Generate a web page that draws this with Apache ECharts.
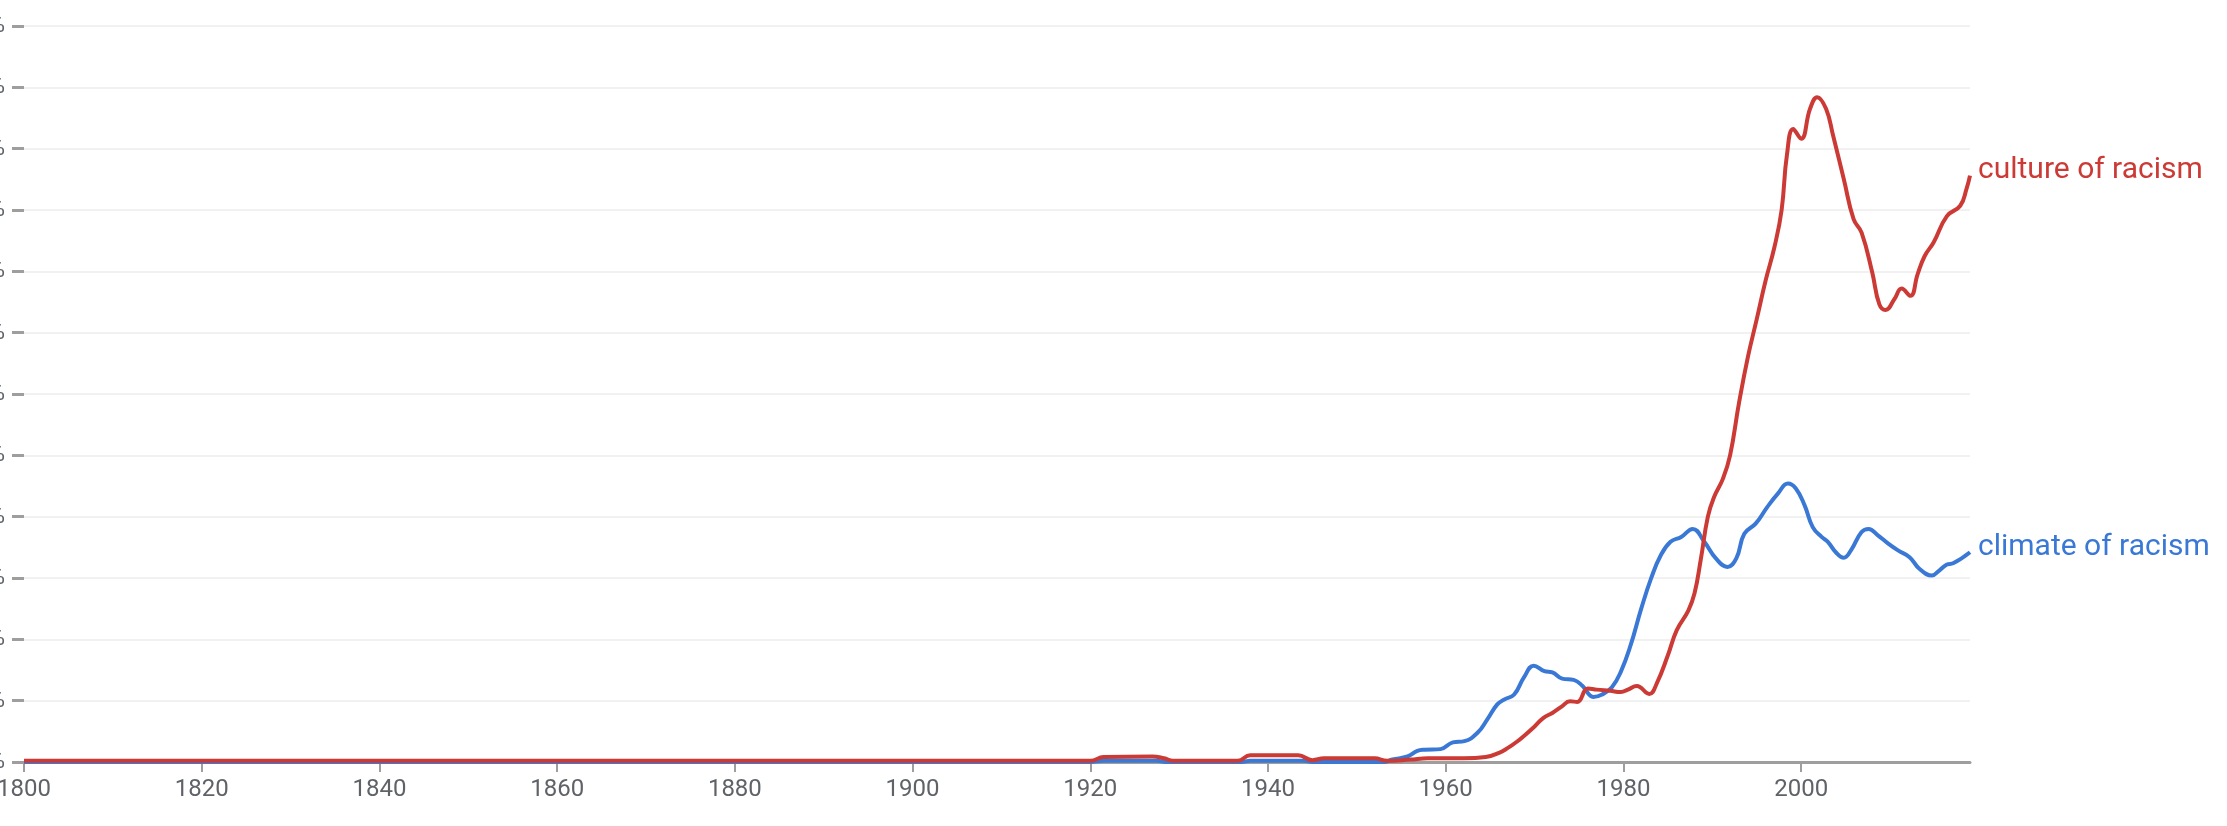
<!DOCTYPE html>
<html>
<head>
<meta charset="utf-8">
<script src="https://cdn.jsdelivr.net/npm/echarts@6/dist/echarts.min.js"></script>
<style>
  html, body { margin: 0; padding: 0; background: #ffffff; }
  #chart { width: 2227px; height: 826px; }
</style>
</head>
<body>
<div id="chart"></div>
<script>
// ---- data (y unit = one gridline step) ----
const seriesNames = ['climate of racism', 'culture of racism'];

const climateYears = [1800, 1920, 1921.5, 1927.5, 1928.5, 1937, 1938, 1944, 1945, 1953, 1954, 1955.7, 1956.8, 1957.6, 1959.4, 1960.8, 1962.1, 1963.6, 1964.7, 1965.8, 1966.6, 1967.7, 1968.8, 1969.9, 1971.1, 1972, 1973.1, 1974.4, 1975.4, 1976.6, 1977.6, 1978.7, 1979.7, 1980.8, 1982, 1983.1, 1984.2, 1985.3, 1986.5, 1987.8, 1989.1, 1990.4, 1991.7, 1992.7, 1993.6, 1994.9, 1996.2, 1997.4, 1998.5, 1999.4, 2000.4, 2001.3, 2002.3, 2003, 2003.9, 2004.8, 2005.6, 2006.8, 2007.6, 2008.6, 2009.8, 2010.9, 2012.2, 2013.3, 2014.7, 2015.6, 2016.4, 2017.1, 2019];
const climateValues = [0, 0, 0.02, 0.02, 0, 0, 0.02, 0.02, 0, 0, 0.04, 0.09, 0.18, 0.2, 0.21, 0.32, 0.34, 0.48, 0.7, 0.94, 1.02, 1.1, 1.38, 1.57, 1.48, 1.46, 1.36, 1.34, 1.24, 1.06, 1.1, 1.22, 1.47, 1.9, 2.5, 2.99, 3.37, 3.59, 3.67, 3.8, 3.59, 3.32, 3.18, 3.32, 3.72, 3.89, 4.16, 4.38, 4.54, 4.46, 4.18, 3.83, 3.67, 3.59, 3.42, 3.33, 3.45, 3.75, 3.8, 3.7, 3.56, 3.45, 3.34, 3.15, 3.04, 3.13, 3.22, 3.24, 3.42];

const cultureYears = [1800, 1920, 1921.5, 1927, 1928.3, 1929.3, 1936.6, 1938, 1943.4, 1945, 1946.3, 1952, 1953.4, 1956, 1958, 1962, 1964.5, 1966, 1967, 1968, 1969, 1970, 1971, 1972, 1973, 1974, 1974.8, 1976, 1977, 1978.5, 1979.7, 1980.5, 1981.5, 1982.9, 1983.8, 1985, 1986, 1987.3, 1988, 1988.7, 1989.5, 1990.2, 1991.2, 1992, 1993, 1994, 1995, 1996, 1997, 1997.8, 1998.4, 1999.1, 2000, 2001, 2001.8, 2002.8, 2003.6, 2004.8, 2005.9, 2006.8, 2008, 2008.8, 2009.5, 2010.5, 2011.3, 2012.3, 2013.1, 2013.9, 2014.9, 2016.4, 2017.9, 2018.6, 2019];
const cultureValues = [0.02, 0.02, 0.08, 0.09, 0.06, 0.02, 0.02, 0.11, 0.11, 0.03, 0.06, 0.06, 0.02, 0.04, 0.06, 0.06, 0.08, 0.15, 0.23, 0.33, 0.45, 0.58, 0.72, 0.8, 0.9, 0.99, 0.98, 1.2, 1.18, 1.16, 1.14, 1.18, 1.24, 1.11, 1.3, 1.74, 2.15, 2.47, 2.75, 3.3, 4.0, 4.32, 4.62, 5.0, 5.85, 6.6, 7.22, 7.85, 8.4, 9.0, 9.9, 10.32, 10.16, 10.65, 10.84, 10.65, 10.21, 9.5, 8.85, 8.63, 7.98, 7.46, 7.37, 7.55, 7.72, 7.6, 7.95, 8.25, 8.47, 8.9, 9.07, 9.34, 9.56];

const xTicks = [1800, 1820, 1840, 1860, 1880, 1900, 1920, 1940, 1960, 1980, 2000];
const yTickCount = 12;           // gridline steps
const yUnitPercent = 0.0000001;  // value of one step, in percent

const seriesColors = ['#3a78d6', '#cc3a35'];

function pairs(xs, ys) { return xs.map((x, i) => [x, ys[i]]); }

const chart = echarts.init(document.getElementById('chart'), null, { renderer: 'canvas' });

const lineSeries = (name, data, color) => ({
  name: name,
  type: 'line',
  data: data,
  smooth: 0.45,
  showSymbol: false,
  symbol: 'none',
  lineStyle: { color: color, width: 4 },
  itemStyle: { color: color },
  endLabel: {
    show: true,
    formatter: '{a}',
    color: color,
    fontFamily: 'Roboto',
    fontSize: 30,
    distance: 8,
    offset: [0, -5]
  },
  animation: false
});

chart.setOption({
  backgroundColor: '#ffffff',
  animation: false,
  grid: { left: 24, right: 257, top: 26, bottom: 64, containLabel: false, outerBoundsMode: 'none' },
  xAxis: {
    type: 'value',
    min: 1800,
    max: 2019,
    axisLine: { show: true, lineStyle: { color: '#9e9e9e', width: 3 } },
    axisTick: { show: true, length: 10, lineStyle: { color: '#9e9e9e', width: 2 },
      customValues: xTicks },
    axisLabel: {
      color: '#5f6368', fontFamily: 'Roboto', fontSize: 24, margin: 16,
      customValues: xTicks,
      formatter: v => String(v),
      showMinLabel: true,
      showMaxLabel: true,
      hideOverlap: false
    },
    splitLine: { show: false }
  },
  yAxis: {
    type: 'value',
    min: 0,
    max: yTickCount,
    interval: 1,
    axisLine: { show: false },
    axisTick: { show: true, inside: false, length: 12, lineStyle: { color: '#9e9e9e', width: 3 } },
    axisLabel: {
      color: '#5f6368', fontFamily: 'Roboto', fontSize: 24, margin: 19,
      formatter: v => (v * yUnitPercent).toFixed(7) + '%'
    },
    splitLine: { show: true, lineStyle: { color: '#f1f1f1', width: 2 } }
  },
  series: [
    lineSeries(seriesNames[0], pairs(climateYears, climateValues), seriesColors[0]),
    lineSeries(seriesNames[1], pairs(cultureYears, cultureValues), seriesColors[1])
  ]
});
</script>
</body>
</html>
